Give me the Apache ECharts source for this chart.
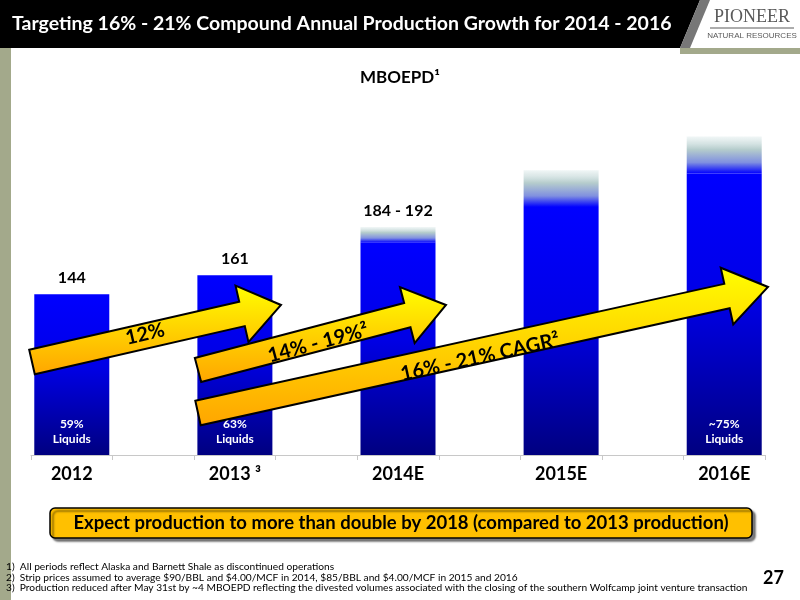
<!DOCTYPE html>
<html>
<head>
<meta charset="utf-8">
<script src="https://cdn.jsdelivr.net/npm/echarts@6/dist/echarts.min.js"></script>
<style>html,body{margin:0;padding:0;background:#fff}#main{width:800px;height:600px}</style>
</head>
<body>
<div id="main"></div>
<script>
// slots: bars sit on every other slot, empty slots just give the axis its ticks
var categories = ['2012', '', '2013', '', '2014E', '', '2015E', '', '2016E'];
var baseValues = [144, '-', 161, '-', 190, '-', 222, '-', 252];
var fadeValues = [0, '-', 0, '-', 14, '-', 33, '-', 33];
var topLabels = ['144', '', '161', '', '184 - 192', '', '', '', ''];
var liquidsLabels = ['59%\nLiquids', '', '63%\nLiquids', '', '', '', '', '', '~75%\nLiquids'];
var footnotes = [
    '1)  All periods reflect Alaska and Barnett Shale as discontinued operations',
    '2)  Strip prices assumed to average $90/BBL and $4.00/MCF in 2014, $85/BBL and $4.00/MCF in 2015 and 2016',
    '3)  Production reduced after May 31st by ~4 MBOEPD reflecting the divested volumes associated with the closing of the southern Wolfcamp joint venture transaction'
];

var FONT = 'Lato, "DejaVu Sans", sans-serif';

// arrow polygon from tail to tip
function arrow(x0, y0, x1, y1, shaft, head, headLen) {
    var dx = x1 - x0, dy = y1 - y0, len = Math.sqrt(dx * dx + dy * dy);
    var ux = dx / len, uy = dy / len, nx = -uy, ny = ux;
    function p(a, b) { return [x0 + ux * a + nx * b, y0 + uy * a + ny * b]; }
    var L = len - headLen;
    return [p(0, -shaft / 2), p(L, -shaft / 2), p(L, -head / 2), p(len, 0),
            p(L, head / 2), p(L, shaft / 2), p(0, shaft / 2)];
}
function arrowShape(pts) {
    return {
        type: 'polygon', z: 10,
        shape: { points: pts },
        style: {
            fill: new echarts.graphic.LinearGradient(0, 0, 0, 1, [
                { offset: 0, color: '#ffff00' }, { offset: 1, color: '#ffa500' }]),
            stroke: '#000', lineWidth: 2
        }
    };
}
function rotLabel(text, x, y, deg, size) {
    return {
        type: 'text', z: 11, x: x, y: y, rotation: deg * Math.PI / 180,
        style: { text: text, fill: '#000', font: 'bold ' + size + 'px ' + FONT, align: 'center', verticalAlign: 'middle' }
    };
}

var graphics = [
    { type: 'rect', shape: { x: 0, y: 48, width: 11, height: 552 }, style: { fill: '#a3a98b' } },
    { type: 'rect', shape: { x: 680, y: 48, width: 120, height: 6 }, style: { fill: '#a3a98b' } },
    { type: 'polygon', shape: { points: [[0, 0], [700, 0], [680, 48], [0, 48]] }, style: { fill: '#000' } },
    { type: 'polygon', shape: { points: [[700, 0], [710, 0], [690, 48], [680, 48]] }, style: { fill: '#777' } },
    { type: 'text', x: 12, y: 24, style: { text: 'Targeting 16% - 21% Compound Annual Production Growth for 2014 - 2016', fill: '#fff', font: 'bold 19.5px ' + FONT, verticalAlign: 'middle' } },
    { type: 'text', x: 752, y: 17, style: { text: 'PIONEER', fill: '#5a5a5a', font: '18px "Liberation Serif", serif', align: 'center', verticalAlign: 'middle' } },
    { type: 'line', shape: { x1: 710, y1: 28, x2: 794, y2: 28 }, style: { stroke: '#5a5a5a', lineWidth: 1 } },
    { type: 'text', x: 752, y: 36, style: { text: 'NATURAL RESOURCES', fill: '#5a5a5a', font: '8px "Liberation Sans Narrow", "Liberation Sans", sans-serif', align: 'center', verticalAlign: 'middle' } },
    { type: 'text', x: 400, y: 78, style: { text: 'MBOEPD\u00b9', fill: '#000', font: 'bold 17px ' + FONT, align: 'center', verticalAlign: 'middle' } },
    arrowShape(arrow(198, 370, 446, 305, 25, 58, 40)),
    arrowShape(arrow(198, 413, 768, 287, 25, 58, 42)),
    arrowShape(arrow(32, 362, 281, 305, 25, 58, 40)),
    rotLabel('12%', 145, 334, 13, 20),
    rotLabel('14% - 19%\u00b2', 318, 343, 15, 20),
    rotLabel('16% - 21% CAGR\u00b2', 480, 357, 12.5, 20),
    {
        type: 'rect', z: 5, shape: { x: 50, y: 508, width: 702, height: 30, r: 5 },
        style: { fill: '#ffc000', stroke: '#000', lineWidth: 1.5, shadowColor: 'rgba(0,0,0,0.5)', shadowOffsetX: 3, shadowOffsetY: 3, shadowBlur: 2 }
    },
    { type: 'text', z: 6, x: 401, y: 523, style: { text: 'Expect production to more than double by 2018 (compared to 2013 production)', fill: '#000', font: 'bold 18.5px ' + FONT, align: 'center', verticalAlign: 'middle' } },
    { type: 'text', x: 784, y: 578, style: { text: '27', fill: '#000', font: 'bold 18px ' + FONT, align: 'right', verticalAlign: 'middle' } }
];
footnotes.forEach(function (t, i) {
    graphics.push({ type: 'text', x: 6, y: 567 + i * 10.5, style: { text: t, fill: '#000', font: '10.2px ' + FONT, verticalAlign: 'middle' } });
});

var chart = echarts.init(document.getElementById('main'));
chart.setOption({
    animation: false,
    grid: { left: 31, right: 35, top: 64, bottom: 145 },
    xAxis: {
        type: 'category', data: categories,
        axisLine: { lineStyle: { color: '#c8c8c8' } },
        axisTick: { show: true, length: 5, interval: 0, lineStyle: { color: '#c8c8c8' } },
        axisLabel: {
            interval: 0, margin: 10, color: '#000', fontSize: 18, fontWeight: 'bold', fontFamily: FONT,
            formatter: function (v) { return v === '2013' ? '2013 \u00b3' : v; }
        }
    },
    yAxis: { type: 'value', min: 0, max: 350, show: false, splitLine: { show: false } },
    series: [{
        type: 'bar', stack: 'p', data: baseValues, barWidth: 75,
        itemStyle: {
            color: new echarts.graphic.LinearGradient(0, 0, 0, 1, [
                { offset: 0, color: '#0000ff' }, { offset: 0.45, color: '#0000e6' }, { offset: 1, color: '#000080' }])
        },
        label: {
            show: true, position: 'insideBottom', distance: 8, color: '#fff', fontSize: 12, fontWeight: 'bold',
            fontFamily: FONT, lineHeight: 15,
            formatter: function (p) { return liquidsLabels[p.dataIndex]; }
        }
    }, {
        type: 'bar', stack: 'p', data: fadeValues, barWidth: 75,
        itemStyle: {
            color: new echarts.graphic.LinearGradient(0, 0, 0, 1, [
                { offset: 0, color: 'rgba(230,240,240,0.6)' }, { offset: 0.35, color: '#b5cccc' },
                { offset: 0.7, color: '#8090e0' }, { offset: 1, color: '#0000ff' }])
        },
        label: {
            show: true, position: 'top', distance: 8, color: '#000', fontSize: 16, fontWeight: 'bold', fontFamily: FONT,
            formatter: function (p) { return topLabels[p.dataIndex]; }
        }
    }],
    graphic: graphics
});
</script>
</body>
</html>
